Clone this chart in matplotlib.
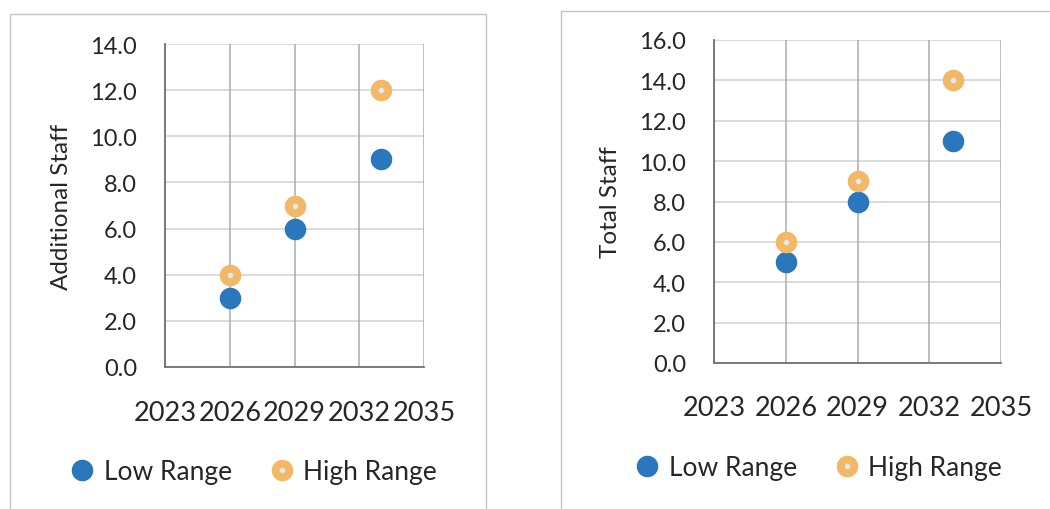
import matplotlib
matplotlib.use("Agg")
import matplotlib.pyplot as plt
from matplotlib.patches import Rectangle
from matplotlib.lines import Line2D
from matplotlib.legend_handler import HandlerTuple

plt.rcParams['font.family'] = ['Lato', 'DejaVu Sans']

# Data
years = [2026, 2029, 2033]
year_ticks = [2023, 2026, 2029, 2032, 2035]

additional_low = [3, 6, 9]
additional_high = [4, 7, 12]
additional_ticks = [0, 2, 4, 6, 8, 10, 12, 14]

total_low = [5, 8, 11]
total_high = [6, 9, 14]
total_ticks = [0, 2, 4, 6, 8, 10, 12, 14, 16]

series_labels = ["Low Range", "High Range"]

BLUE = "#2a77bd"
ORANGE = "#f3b865"
DOT = "#dce9ee"
GRID_H = "#cfd1d1"
GRID_V = "#a9abab"
SPINE = "#6f7171"
TEXT = "#262626"

fig = plt.figure(figsize=(10.5, 5.1), dpi=100)

# Page frames around each chart
fig.patches.append(Rectangle((10 / 1050, -0.05), 476 / 1050, 1 - 15 / 510 + 0.05,
                             transform=fig.transFigure, fill=False,
                             edgecolor="#c2c4c4", linewidth=1.0))
fig.patches.append(Rectangle((561 / 1050, -0.05), 0.6, 1 - 12 / 510 + 0.05,
                             transform=fig.transFigure, fill=False,
                             edgecolor="#c2c4c4", linewidth=1.0))


def draw_panel(rect, low, high, yticks, ylabel, legend_xy, xpad):
    ax = fig.add_axes(rect)
    ax.set_xlim(year_ticks[0], year_ticks[-1])
    ax.set_ylim(yticks[0], yticks[-1])
    ax.set_xticks(year_ticks)
    ax.set_xticklabels([str(y) for y in year_ticks])
    ax.set_yticks(yticks)
    ax.set_yticklabels([f"{v:.1f}" for v in yticks])
    ax.tick_params(axis="both", length=0, colors=TEXT)
    ax.tick_params(axis="y", labelsize=17, pad=20)
    ax.tick_params(axis="x", labelsize=19.5, pad=xpad)
    for v in yticks:
        ax.axhline(v, color=GRID_H, linewidth=1.1, zorder=1)
    for v in year_ticks:
        ax.axvline(v, color=GRID_V, linewidth=1.1, zorder=1)
    for side in ("top", "right"):
        ax.spines[side].set_visible(False)
    for side in ("left", "bottom"):
        ax.spines[side].set_color(SPINE)
        ax.spines[side].set_linewidth(1.3)
    ax.set_ylabel(ylabel, fontsize=17.5, color=TEXT, labelpad=13)

    ax.plot(years, low, linestyle="none", marker="o", markersize=14.5,
            markerfacecolor=BLUE, markeredgecolor=BLUE, zorder=3, clip_on=False)
    ax.plot(years, high, linestyle="none", marker="o", markersize=14.5,
            markerfacecolor=ORANGE, markeredgecolor=ORANGE, zorder=4, clip_on=False)
    ax.plot(years, high, linestyle="none", marker="o", markersize=3,
            markerfacecolor=DOT, markeredgecolor=DOT, zorder=5, clip_on=False)

    h_low = Line2D([], [], linestyle="none", marker="o", markersize=14.5,
                   markerfacecolor=BLUE, markeredgecolor=BLUE)
    h_high = Line2D([], [], linestyle="none", marker="o", markersize=14.5,
                    markerfacecolor=ORANGE, markeredgecolor=ORANGE)
    h_dot = Line2D([], [], linestyle="none", marker="o", markersize=3,
                   markerfacecolor=DOT, markeredgecolor=DOT)
    ax.legend([h_low, (h_high, h_dot)], series_labels,
              handler_map={tuple: HandlerTuple(ndivide=1, pad=0)},
              loc="center", bbox_to_anchor=legend_xy, bbox_transform=fig.transFigure,
              ncol=2, frameon=False, fontsize=19, handlelength=1.0,
              handletextpad=0.3, columnspacing=1.4, labelcolor=TEXT)
    return ax


draw_panel([165 / 1050, 1 - 368 / 510, 259 / 1050, 323 / 510],
           additional_low, additional_high, additional_ticks, "Additional Staff",
           (253 / 1050, 1 - 473 / 510), 24)
draw_panel([714 / 1050, 1 - 364 / 510, 287 / 1050, 323 / 510],
           total_low, total_high, total_ticks, "Total Staff",
           (818 / 1050, 1 - 469 / 510), 23)

fig.savefig("out.png", dpi=100, facecolor="white")
